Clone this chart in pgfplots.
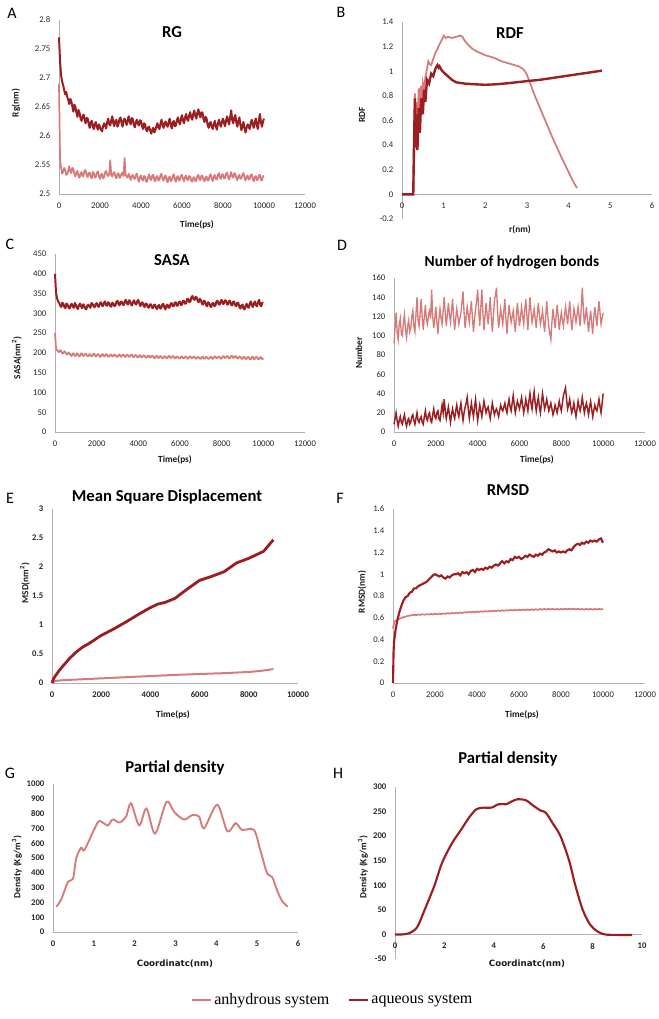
\documentclass[border=0pt]{standalone}
\usepackage{fontspec}
\setmainfont{Carlito}
\newfontfamily\legfont{Liberation Serif}
\newfontfamily\dvfont{DejaVu Sans}
\usepackage{pgfplots}
\usepackage{pgfplotstable}
\pgfplotsset{compat=1.18}
\definecolor{lite}{RGB}{214,122,122}
\definecolor{dark}{RGB}{155,30,32}
\definecolor{axgray}{RGB}{175,175,175}

\pgfplotsset{
  panel/.style={
    scale only axis, anchor=south west,
    axis x line*=bottom, axis y line*=left,
    axis line style={draw=axgray, line width=0.7pt},
    major tick length=0pt,
    scaled x ticks=false, scaled y ticks=false,
    tick label style={font=\fontsize{6.5}{7}\selectfont, text=black!85},
    /pgf/number format/assume math mode=true,
    /pgf/number format/1000 sep={},
    xticklabel style={yshift=-3pt},
    yticklabel style={xshift=-3pt},
    clip=false,
  },
  boldticks/.style={tick label style={font=\bfseries\fontsize{6.5}{7}\selectfont, text=black!85}},
}

\pgfplotstableread{
t d l
0 2.770 2.690
50 2.730 2.560
100 2.705 2.546
150 2.694 2.535
200 2.688 2.538
250 2.680 2.545
300 2.672 2.542
350 2.676 2.533
400 2.668 2.534
450 2.662 2.540
500 2.655 2.548
550 2.664 2.539
600 2.660 2.536
650 2.651 2.545
700 2.642 2.543
750 2.654 2.535
800 2.650 2.530
850 2.640 2.537
900 2.633 2.540
950 2.645 2.531
1000 2.640 2.528
1050 2.631 2.535
1100 2.626 2.538
1150 2.634 2.530
1200 2.637 2.532
1250 2.628 2.541
1300 2.622 2.541
1350 2.631 2.533
1400 2.630 2.529
1450 2.620 2.536
1500 2.614 2.537
1550 2.624 2.530
1600 2.626 2.527
1650 2.616 2.538
1700 2.612 2.536
1750 2.621 2.528
1800 2.624 2.530
1850 2.615 2.537
1900 2.611 2.539
1950 2.620 2.531
2000 2.615 2.526
2050 2.611 2.533
2100 2.608 2.535
2150 2.617 2.527
2200 2.622 2.529
2250 2.618 2.537
2300 2.613 2.540
2350 2.624 2.533
2400 2.630 2.531
2450 2.621 2.534
2500 2.618 2.558
2550 2.627 2.532
2600 2.634 2.530
2650 2.622 2.536
2700 2.617 2.538
2750 2.626 2.530
2800 2.628 2.527
2850 2.616 2.534
2900 2.620 2.536
2950 2.629 2.528
3000 2.632 2.529
3050 2.623 2.535
3100 2.616 2.537
3150 2.627 2.531
3200 2.630 2.562
3250 2.625 2.533
3300 2.619 2.530
3350 2.628 2.528
3400 2.634 2.535
3450 2.624 2.530
3500 2.620 2.524
3550 2.631 2.531
3600 2.629 2.533
3650 2.619 2.527
3700 2.615 2.526
3750 2.624 2.533
3800 2.628 2.535
3850 2.621 2.526
3900 2.618 2.521
3950 2.627 2.529
4000 2.626 2.532
4050 2.617 2.525
4100 2.612 2.523
4150 2.622 2.531
4200 2.620 2.530
4250 2.611 2.521
4300 2.608 2.522
4350 2.615 2.529
4400 2.616 2.534
4450 2.609 2.526
4500 2.604 2.524
4550 2.611 2.532
4600 2.614 2.533
4650 2.606 2.524
4700 2.610 2.522
4750 2.617 2.530
4800 2.622 2.531
4850 2.615 2.523
4900 2.612 2.525
4950 2.621 2.532
5000 2.628 2.535
5050 2.619 2.526
5100 2.614 2.523
5150 2.622 2.530
5200 2.625 2.532
5250 2.618 2.524
5300 2.616 2.520
5350 2.624 2.528
5400 2.630 2.530
5450 2.620 2.522
5500 2.613 2.524
5550 2.623 2.531
5600 2.626 2.534
5650 2.617 2.525
5700 2.618 2.521
5750 2.627 2.529
5800 2.632 2.531
5850 2.624 2.523
5900 2.620 2.525
5950 2.630 2.532
6000 2.636 2.533
6050 2.626 2.526
6100 2.622 2.522
6150 2.632 2.529
6200 2.638 2.532
6250 2.629 2.525
6300 2.626 2.524
6350 2.636 2.531
6400 2.641 2.530
6450 2.632 2.523
6500 2.628 2.521
6550 2.638 2.528
6600 2.644 2.529
6650 2.635 2.522
6700 2.630 2.523
6750 2.640 2.531
6800 2.646 2.533
6850 2.637 2.525
6900 2.632 2.524
6950 2.641 2.532
7000 2.640 2.531
7050 2.629 2.524
7100 2.624 2.522
7150 2.633 2.529
7200 2.630 2.530
7250 2.619 2.523
7300 2.614 2.524
7350 2.622 2.532
7400 2.624 2.534
7450 2.616 2.526
7500 2.612 2.522
7550 2.620 2.530
7600 2.626 2.533
7650 2.617 2.526
7700 2.611 2.525
7750 2.621 2.533
7800 2.628 2.536
7850 2.620 2.528
7900 2.616 2.526
7950 2.625 2.534
8000 2.630 2.534
8050 2.622 2.527
8100 2.617 2.527
8150 2.627 2.535
8200 2.634 2.537
8250 2.625 2.529
8300 2.620 2.525
8350 2.633 2.532
8400 2.644 2.538
8450 2.628 2.530
8500 2.622 2.528
8550 2.631 2.536
8600 2.636 2.535
8650 2.623 2.527
8700 2.616 2.524
8750 2.626 2.531
8800 2.632 2.533
8850 2.619 2.526
8900 2.610 2.527
8950 2.618 2.534
9000 2.624 2.536
9050 2.613 2.528
9100 2.606 2.523
9150 2.614 2.530
9200 2.620 2.532
9250 2.617 2.525
9300 2.612 2.526
9350 2.622 2.533
9400 2.628 2.534
9450 2.620 2.526
9500 2.614 2.522
9550 2.624 2.529
9600 2.630 2.531
9650 2.619 2.524
9700 2.612 2.525
9750 2.626 2.532
9800 2.638 2.533
9850 2.624 2.525
9900 2.616 2.523
9950 2.625 2.531
10000 2.630 2.530
}\tabA

\pgfplotstableread{
t d l
0 400 250
50 352 212
100 338 207
150 330 203
200 326 202
250 320 207
300 316 205
350 327 198
400 324 199
450 316 204
500 313 202
550 325 197
600 322 196
650 315 201
700 312 199
750 321 194
800 324 192
850 317 199
900 314 198
950 326 192
1000 322 193
1050 314 199
1100 311 197
1150 320 191
1200 325 192
1250 318 199
1300 313 198
1350 323 192
1400 320 193
1450 312 198
1500 310 197
1550 319 192
1600 322 191
1650 317 197
1700 314 196
1750 326 191
1800 324 192
1850 318 198
1900 315 197
1950 323 191
2000 326 193
2050 319 197
2100 316 196
2150 325 190
2200 328 191
2250 320 196
2300 318 197
2350 327 191
2400 330 192
2450 321 197
2500 319 196
2550 328 190
2600 326 191
2650 318 195
2700 317 196
2750 327 191
2800 325 192
2850 318 196
2900 320 195
2950 329 190
3000 332 190
3050 323 195
3100 320 196
3150 329 190
3200 330 191
3250 322 196
3300 321 195
3350 331 190
3400 334 190
3450 325 196
3500 322 195
3550 333 190
3600 331 191
3650 322 195
3700 320 196
3750 330 189
3800 333 190
3850 324 195
3900 322 194
3950 331 189
4000 334 189
4050 324 194
4100 318 194
4150 326 188
4200 328 190
4250 319 194
4300 316 193
4350 325 188
4400 324 188
4450 316 193
4500 314 193
4550 322 188
4600 323 189
4650 315 193
4700 313 192
4750 321 187
4800 322 187
4850 314 192
4900 311 192
4950 319 187
5000 321 188
5050 312 192
5100 313 191
5150 322 186
5200 324 187
5250 315 192
5300 310 191
5350 320 186
5400 322 187
5450 314 192
5500 315 192
5550 324 187
5600 326 188
5650 318 192
5700 318 191
5750 327 186
5800 328 187
5850 319 191
5900 320 190
5950 329 186
6000 330 186
6050 321 191
6100 322 191
6150 332 186
6200 331 187
6250 324 191
6300 326 190
6350 337 185
6400 336 186
6450 328 191
6500 330 191
6550 341 186
6600 344 187
6650 336 191
6700 334 190
6750 342 185
6800 340 186
6850 331 190
6900 328 189
6950 337 185
7000 334 185
7050 325 190
7100 322 190
7150 332 185
7200 330 186
7250 321 190
7300 318 189
7350 328 185
7400 326 185
7450 318 190
7500 316 190
7550 325 185
7600 326 186
7650 318 191
7700 320 191
7750 330 186
7800 332 187
7850 323 191
7900 322 190
7950 331 185
8000 334 186
8050 324 191
8100 324 192
8150 333 187
8200 333 188
8250 324 192
8300 322 191
8350 331 186
8400 332 187
8450 322 192
8500 320 193
8550 329 187
8600 330 188
8650 320 192
8700 318 191
8750 327 186
8800 326 186
8850 316 191
8900 312 190
8950 320 185
9000 322 185
9050 312 190
9100 310 190
9150 319 184
9200 324 185
9250 316 190
9300 314 189
9350 325 184
9400 330 184
9450 320 190
9500 316 190
9550 326 184
9600 330 185
9650 320 190
9700 318 189
9750 329 184
9800 334 184
9850 321 189
9900 318 189
9950 327 184
10000 326 186
}\tabC

\pgfplotstableread{
t d l
0 8 92
50 14 108
100 20 124
150 12 104
200 6 96
250 12 112
300 16 118
350 10 102
400 8 100
450 14 114
500 18 122
550 10 106
600 6 98
650 12 110
700 14 116
750 8 104
800 10 108
850 16 120
900 18 126
950 12 110
1000 8 104
1050 14 122
1100 20 140
1150 12 116
1200 10 110
1250 14 124
1300 16 138
1350 10 118
1400 8 106
1450 16 120
1500 22 132
1550 14 116
1600 12 112
1650 18 122
1700 20 126
1750 12 118
1800 10 148
1850 18 120
1900 24 108
1950 16 118
2000 14 130
2050 20 114
2100 22 102
2150 14 118
2200 12 128
2250 20 118
2300 28 112
2350 20 126
2400 34 140
2450 22 124
2500 14 110
2550 20 122
2600 26 134
2650 18 122
2700 10 114
2750 18 126
2800 24 138
2850 18 120
2900 14 106
2950 22 118
3000 28 128
3050 20 120
3100 16 112
3150 24 118
3200 30 124
3250 20 134
3300 12 146
3350 20 124
3400 26 108
3450 30 120
3500 36 130
3550 24 122
3600 14 114
3650 22 126
3700 30 136
3750 22 118
3800 16 104
3850 26 118
3900 34 128
3950 22 136
4000 12 148
4050 20 126
4100 28 110
4150 22 130
4200 16 148
4250 24 124
4300 32 106
4350 26 120
4400 20 134
4450 24 122
4500 26 112
4550 20 126
4600 14 140
4650 22 120
4700 30 104
4750 24 120
4800 18 136
4850 22 142
4900 24 150
4950 20 126
5000 16 108
5050 22 118
5100 28 128
5150 24 120
5200 22 112
5250 26 126
5300 30 138
5350 24 118
5400 20 102
5450 28 118
5500 34 132
5550 26 122
5600 22 114
5650 30 120
5700 38 126
5750 28 114
5800 20 104
5850 26 120
5900 32 134
5950 28 122
6000 24 110
6050 30 120
6100 36 130
6150 28 120
6200 20 112
6250 26 126
6300 34 138
6350 28 122
6400 22 106
6450 32 124
6500 40 140
6550 30 126
6600 24 114
6650 34 120
6700 42 128
6750 30 118
6800 22 108
6850 30 122
6900 36 134
6950 26 122
7000 20 112
7050 30 118
7100 40 126
7150 32 114
7200 24 104
7250 28 120
7300 34 136
7350 28 122
7400 22 110
7450 26 102
7500 30 96
7550 24 114
7600 18 128
7650 22 118
7700 28 108
7750 24 120
7800 20 132
7850 26 120
7900 32 106
7950 26 116
8000 22 124
8050 30 116
8100 38 110
8150 42 120
8200 46 130
8250 34 122
8300 24 112
8350 28 124
8400 34 136
8450 26 120
8500 20 106
8550 24 116
8600 30 128
8650 22 122
8700 16 114
8750 24 122
8800 32 130
8850 26 120
8900 22 110
8950 28 128
9000 36 150
9050 28 130
9100 20 112
9150 26 120
9200 30 130
9250 24 116
9300 18 104
9350 26 116
9400 32 126
9450 24 114
9500 16 102
9550 22 118
9600 28 130
9650 24 120
9700 22 110
9750 28 124
9800 34 136
9850 26 124
9900 20 112
9950 30 118
10000 40 124
}\tabD

\pgfplotstableread{
t d l
0 0.00 0.500
25 0.28 0.530
50 0.38 0.550
100 0.46 0.570
150 0.52 0.575
200 0.57 0.580
300 0.65 0.592
400 0.71 0.598
500 0.76 0.606
600 0.79 0.610
700 0.80 0.616
800 0.83 0.620
900 0.84 0.624
1000 0.87 0.628
1100 0.87 0.624
1200 0.89 0.630
1300 0.90 0.627
1400 0.91 0.632
1500 0.92 0.628
1600 0.93 0.633
1700 0.95 0.629
1800 0.97 0.635
1900 0.99 0.630
2000 1.00 0.636
2100 0.99 0.632
2200 0.98 0.637
2300 0.99 0.633
2400 0.97 0.640
2500 0.96 0.636
2600 0.98 0.642
2700 0.97 0.638
2800 0.99 0.644
2900 1.00 0.640
3000 1.00 0.646
3100 1.01 0.642
3200 0.99 0.648
3300 1.02 0.644
3400 1.01 0.651
3500 1.02 0.647
3600 1.00 0.653
3700 1.03 0.649
3800 1.04 0.655
3900 1.02 0.651
4000 1.05 0.657
4100 1.04 0.653
4200 1.05 0.659
4300 1.04 0.655
4400 1.06 0.661
4500 1.05 0.657
4600 1.07 0.663
4700 1.06 0.659
4800 1.08 0.665
4900 1.09 0.661
5000 1.08 0.667
5100 1.10 0.663
5200 1.12 0.668
5300 1.10 0.664
5400 1.12 0.670
5500 1.11 0.666
5600 1.14 0.672
5700 1.13 0.667
5800 1.16 0.673
5900 1.15 0.668
6000 1.16 0.674
6100 1.14 0.669
6200 1.15 0.675
6300 1.17 0.670
6400 1.16 0.676
6500 1.18 0.671
6600 1.17 0.677
6700 1.16 0.672
6800 1.18 0.678
6900 1.17 0.673
7000 1.19 0.680
7100 1.18 0.675
7200 1.20 0.681
7300 1.21 0.676
7400 1.23 0.682
7500 1.22 0.677
7600 1.21 0.682
7700 1.22 0.676
7800 1.20 0.681
7900 1.21 0.675
8000 1.20 0.682
8100 1.21 0.676
8200 1.20 0.683
8300 1.22 0.677
8400 1.23 0.684
8500 1.22 0.678
8600 1.25 0.683
8700 1.27 0.677
8800 1.28 0.682
8900 1.27 0.676
9000 1.29 0.681
9100 1.28 0.675
9200 1.30 0.682
9300 1.29 0.676
9400 1.31 0.681
9500 1.30 0.675
9600 1.31 0.681
9700 1.30 0.676
9800 1.32 0.682
9900 1.33 0.677
10000 1.29 0.680
}\tabF

\begin{document}
\begin{tikzpicture}
\path[use as bounding box] (0,0) rectangle (494.25pt,-764.25pt);

% ---------- A: RG
\begin{axis}[panel, at={(44.25pt,-145.5pt)}, width=184.5pt, height=130.5pt,
  xmin=0, xmax=12000, ymin=2.5, ymax=2.8,
  xtick={0,2000,4000,6000,8000,10000,12000},
  ytick={2.5,2.55,2.6,2.65,2.7,2.75,2.8},
  yticklabel style={/pgf/number format/fixed, /pgf/number format/precision=2}]
\addplot[lite, line width=1.3pt, line join=round] table[x=t,y=l] {\tabA};
\addplot[dark, line width=1.5pt, line join=round] table[x=t,y=d] {\tabA};
\end{axis}

% ---------- B: RDF
\begin{axis}[panel, at={(301.5pt,-164.25pt)}, width=187.5pt, height=147.75pt,
  axis x line*=middle, hide obscured x ticks=false, hide obscured y ticks=false,
  xmin=0, xmax=6, ymin=-0.2001, ymax=1.4001,
  xtick={0,1,2,3,4,5,6}, ytick={-0.2,0,0.2,0.4,0.6,0.8,1,1.2,1.4}]
\addplot[lite, line width=1.3pt] coordinates {
(0,0) (0.27,0) (0.29,0.5) (0.31,0.82) (0.33,0.45) (0.35,0.75) (0.37,0.55) (0.40,0.86)
(0.42,0.6) (0.45,0.88) (0.48,0.7) (0.50,0.9) (0.53,0.85) (0.56,0.95) (0.60,1.02)
(0.63,1.08) (0.66,1.06) (0.70,1.05) (0.75,1.10) (0.80,1.15) (0.85,1.18) (0.90,1.22)
(0.95,1.25) (1.00,1.29) (1.05,1.27) (1.10,1.28) (1.20,1.27) (1.30,1.28) (1.40,1.29)
(1.45,1.28) (1.50,1.25) (1.60,1.21) (1.70,1.18) (1.80,1.16) (2.00,1.13) (2.20,1.11)
(2.40,1.08) (2.60,1.06) (2.80,1.04) (2.90,1.02) (2.95,1.00) (3.00,0.97) (3.10,0.88)
(3.20,0.79) (3.40,0.63) (3.60,0.47) (3.80,0.32) (4.00,0.18) (4.10,0.11) (4.20,0.05)};
\addplot[dark, line width=1.8pt] coordinates {
(0,0) (0.27,0) (0.29,0.45) (0.31,0.78) (0.33,0.38) (0.35,0.65) (0.37,0.36) (0.40,0.70)
(0.43,0.5) (0.46,0.78) (0.50,0.65) (0.53,0.85) (0.56,0.75) (0.60,0.93) (0.65,0.90)
(0.70,0.98) (0.75,0.96) (0.80,1.02) (0.85,1.05) (0.88,1.03) (0.90,1.04) (0.95,1.01)
(1.00,0.99) (1.10,0.96) (1.20,0.93) (1.30,0.91) (1.50,0.90) (1.70,0.895) (2.00,0.89)
(2.30,0.895) (2.60,0.905) (3.00,0.92) (3.30,0.93) (3.60,0.945) (4.00,0.965)
(4.30,0.98) (4.60,0.995) (4.80,1.005)};
\end{axis}

% ---------- C: SASA
\begin{axis}[panel, at={(41.25pt,-324pt)}, width=187.5pt, height=133.5pt,
  xmin=0, xmax=12000, ymin=0, ymax=450,
  xtick={0,2000,4000,6000,8000,10000,12000},
  ytick={0,50,100,150,200,250,300,350,400,450}]
\addplot[lite, line width=1.3pt, line join=round] table[x=t,y=l] {\tabC};
\addplot[dark, line width=1.5pt, line join=round] table[x=t,y=d] {\tabC};
\end{axis}

% ---------- D: H bonds
\begin{axis}[panel, at={(295.5pt,-324pt)}, width=188.25pt, height=115.5pt,
  xmin=0, xmax=12000, ymin=0, ymax=160,
  xtick={0,2000,4000,6000,8000,10000,12000},
  ytick={0,20,40,60,80,100,120,140,160}]
\addplot[lite, line width=1pt] table[x=t,y=l] {\tabD};
\addplot[dark, line width=1.1pt] table[x=t,y=d] {\tabD};
\end{axis}

% ---------- E: MSD
\begin{axis}[panel, boldticks, at={(39pt,-512.25pt)}, width=184.5pt, height=130.5pt,
  xmin=0, xmax=10000, ymin=0, ymax=3,
  xtick={0,2000,4000,6000,8000,10000},
  ytick={0,0.5,1,1.5,2,2.5,3}]
\addplot[lite, line width=1.5pt] coordinates {
(0,0) (100,0.03) (200,0.04) (500,0.05) (1000,0.06) (2000,0.08) (3000,0.10)
(4000,0.12) (5000,0.14) (6000,0.155) (7000,0.17) (8000,0.19) (8500,0.21) (9000,0.24)};
\addplot[dark, line width=2.1pt] coordinates {
(0,0) (50,0.06) (100,0.10) (200,0.16) (300,0.22) (500,0.32) (750,0.44) (1000,0.54)
(1250,0.62) (1500,0.68) (1750,0.75) (2000,0.82) (2500,0.93) (3000,1.05) (3500,1.18)
(4000,1.30) (4300,1.36) (4600,1.39) (5000,1.46) (5500,1.62) (6000,1.77) (6500,1.84)
(7000,1.92) (7500,2.07) (8000,2.15) (8300,2.21) (8600,2.27) (9000,2.47)};
\end{axis}

% ---------- F: RMSD
\begin{axis}[panel, at={(294.75pt,-512.25pt)}, width=189pt, height=130.5pt,
  xmin=0, xmax=12000, ymin=0, ymax=1.6,
  xtick={0,2000,4000,6000,8000,10000,12000},
  ytick={0,0.2,0.4,0.6,0.8,1,1.2,1.4,1.6}]
\addplot[lite, line width=1.3pt] table[x=t,y=l] {\tabF};
\addplot[dark, line width=1.6pt] table[x=t,y=d] {\tabF};
\end{axis}

% ---------- G: Partial density (anhydrous)
\begin{axis}[panel, boldticks, at={(39.75pt,-699pt)}, width=183.75pt, height=111pt,
  xmin=0, xmax=6, ymin=0, ymax=1000,
  xtick={0,1,2,3,4,5,6},
  ytick={0,100,200,300,400,500,600,700,800,900,1000}]
\addplot[lite, line width=1.4pt, smooth, tension=0.5] coordinates {
(0.08,170) (0.2,220) (0.37,340) (0.49,360) (0.57,500) (0.69,570) (0.77,555)
(1.02,700) (1.14,750) (1.34,720) (1.46,760) (1.63,740) (1.79,780) (1.91,870)
(2.11,720) (2.29,835) (2.5,665) (2.78,880) (2.97,810) (3.21,760) (3.41,790)
(3.58,780) (3.7,700) (4.02,860) (4.27,680) (4.47,735) (4.63,690) (4.92,690)
(5.08,550) (5.24,400) (5.37,370) (5.49,280) (5.61,210) (5.75,170)};
\end{axis}

% ---------- H: Partial density (aqueous)
\begin{axis}[panel, boldticks, at={(296.25pt,-719.25pt)}, width=185.25pt, height=129pt,
  axis x line*=middle, hide obscured x ticks=false, hide obscured y ticks=false,
  xmin=0, xmax=10, ymin=-50, ymax=300,
  xtick={0,2,4,6,8,10},
  ytick={-50,0,50,100,150,200,250,300}]
\addplot[dark, line width=1.6pt, smooth, tension=0.5] coordinates {
(0,0) (0.3,0) (0.6,3) (0.9,15) (1.2,50) (1.6,100) (1.9,145) (2.3,185) (2.7,215)
(3.0,238) (3.3,255) (3.6,258) (3.9,258) (4.2,265) (4.5,265) (4.7,270) (4.95,275)
(5.3,273) (5.6,262) (5.9,252) (6.1,248) (6.4,225) (6.7,200) (7.05,150) (7.3,100)
(7.6,50) (7.9,20) (8.2,6) (8.5,0) (9.0,-1) (9.6,-1)};
\end{axis}

% ---------- legend
\begin{axis}[at={(249.75pt,-750pt)}, anchor=center, scale only axis,
  width=10pt, height=10pt, hide axis, xmin=0, xmax=1, ymin=0, ymax=1,
  legend columns=2,
  legend style={at={(0.5,0.5)}, anchor=center, draw=none, fill=none,
    font=\legfont\fontsize{12}{14}\selectfont,
    /tikz/every even column/.append style={column sep=12pt}},
  legend image code/.code={\draw[#1] (0pt,0pt) -- (14pt,0pt);}]
\addlegendimage{lite, line width=1.5pt}
\addlegendentry{anhydrous system}
\addlegendimage{dark, line width=1.5pt}
\addlegendentry{aqueous system}
\end{axis}

% ---------- texts (pixel coordinates)
\begin{scope}[x=0.75pt, y=-0.75pt]
\tikzset{letter/.style={font=\fontsize{12}{14}\selectfont},
  ttl/.style={font=\bfseries\fontsize{12.5}{15}\selectfont},
  lab/.style={font=\bfseries\fontsize{7}{8}\selectfont, text=black!90},
  labG/.style={font=\dvfont\bfseries\fontsize{6.5}{8}\selectfont, text=black!90}}
\node[letter] at (12,13) {A};
\node[letter] at (341,12) {B};
\node[letter] at (10,244) {C};
\node[letter] at (342,245) {D};
\node[letter] at (10,498) {E};
\node[letter] at (340,498) {F};
\node[letter] at (10,773) {G};
\node[letter] at (338,773) {H};

\node[ttl] at (172,32) {RG};
\node[ttl] at (510,33) {RDF};
\node[ttl] at (172,260) {SASA};
\node[ttl, font=\bfseries\fontsize{11.5}{14}\selectfont] at (512,262) {Number of hydrogen bonds};
\node[ttl] at (167,497) {Mean Square Displacement};
\node[ttl] at (508,490) {RMSD};
\node[ttl] at (175,768) {Partial density};
\node[ttl] at (508,759) {Partial density};

\node[lab] at (197,225) {Time(ps)};
\node[lab, rotate=90] at (16,103) {Rg(nm)};
\node[lab] at (520,230) {r(nm)};
\node[lab, rotate=90] at (362,115) {RDF};
\node[lab] at (175,460) {Time(ps)};
\node[lab, rotate=90] at (17,358) {SASA(nm\textsuperscript{2})};
\node[lab] at (537,460) {Time(ps)};
\node[lab, rotate=90] at (359,353) {Number};
\node[lab] at (173,715) {Time(ps)};
\node[lab, rotate=90] at (25,583) {MSD(nm\textsuperscript{2})};
\node[lab] at (522,715) {Time(ps)};
\node[lab, rotate=90] at (362,592) {RMSD(nm)};
\node[labG] at (175,964) {Coordinatc(nm)};
\node[lab, rotate=90] at (17,867) {Density (Kg/m\textsuperscript{3})};
\node[labG] at (527,964) {Coordinatc(nm)};
\node[lab, rotate=90] at (363,867) {Density (Kg/m\textsuperscript{3})};
\end{scope}
\end{tikzpicture}
\end{document}
